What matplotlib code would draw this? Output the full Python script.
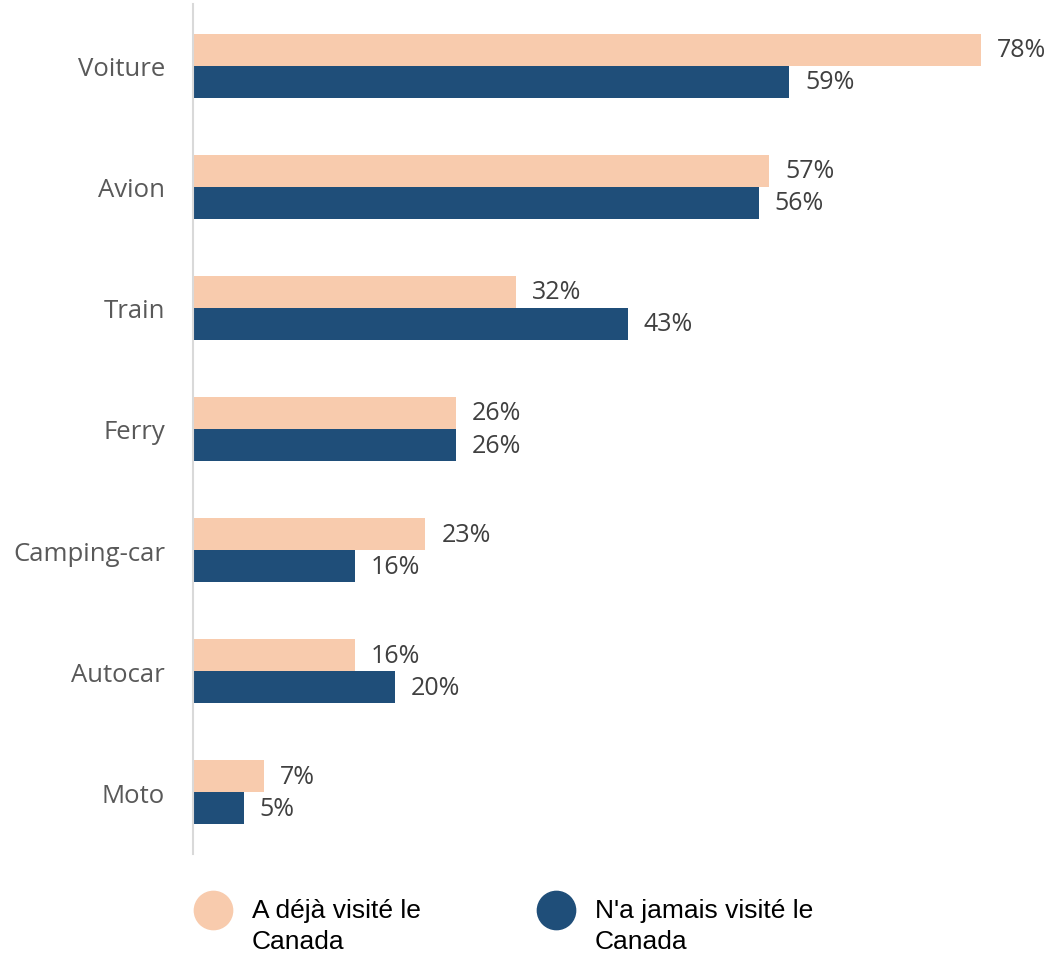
import matplotlib.pyplot as plt

categories = ["Voiture", "Avion", "Train", "Ferry", "Camping-car", "Autocar", "Moto"]
visited = [78, 57, 32, 26, 23, 16, 7]
never_visited = [59, 56, 43, 26, 16, 20, 5]
series_names = ["A déjà visité le\nCanada", "N'a jamais visité le\nCanada"]

peach = "#f8cbad"
navy = "#1f4e79"

plt.rcParams['font.family'] = ['Open Sans', 'DejaVu Sans']

fig = plt.figure(figsize=(10.56, 9.54), dpi=100)
ax = fig.add_axes([193 / 1056, 99 / 954, 1 - 193 / 1056, 850 / 954])

y = list(range(len(categories)))
h = 0.265
ax.barh([v - h / 2 for v in y], visited, height=h, color=peach)
ax.barh([v + h / 2 for v in y], never_visited, height=h, color=navy)

for i, (a, b) in enumerate(zip(visited, never_visited)):
    ax.annotate(f"{a}%", (a, i - h / 2), xytext=(11.5, 0), textcoords="offset points",
                va="center", ha="left", fontsize=18, color="#404040")
    ax.annotate(f"{b}%", (b, i + h / 2), xytext=(11.5, 0), textcoords="offset points",
                va="center", ha="left", fontsize=18, color="#404040")

ax.set_yticks(y)
ax.set_yticklabels(categories, fontsize=18.5, color="#595959")
ax.tick_params(axis="y", length=0, pad=20)
ax.set_xticks([])
ax.set_xlim(0, 85.4)
ax.set_ylim(len(categories) - 0.49, -0.51)
for s in ["top", "right", "bottom"]:
    ax.spines[s].set_visible(False)
ax.spines["left"].set_color("#d9d9d9")
ax.spines["left"].set_linewidth(1.5)

# legend drawn by hand so the circle sits on the first line of text
lax = fig.add_axes([0, 0, 1, 99 / 954])
lax.set_xlim(0, 1056)
lax.set_ylim(99, 0)
lax.axis("off")
for x0, name, c in zip([213, 556], series_names, [peach, navy]):
    first, second = name.split("\n")
    lax.scatter([x0], [56], s=760, color=c, clip_on=False)
    lax.text(x0 + 39, 56, first, va="center", ha="left", fontsize=19,
             family="Liberation Sans", color="black")
    lax.text(x0 + 39, 87, second, va="center", ha="left", fontsize=19,
             family="Liberation Sans", color="black")

fig.savefig("out.png", dpi=100)
